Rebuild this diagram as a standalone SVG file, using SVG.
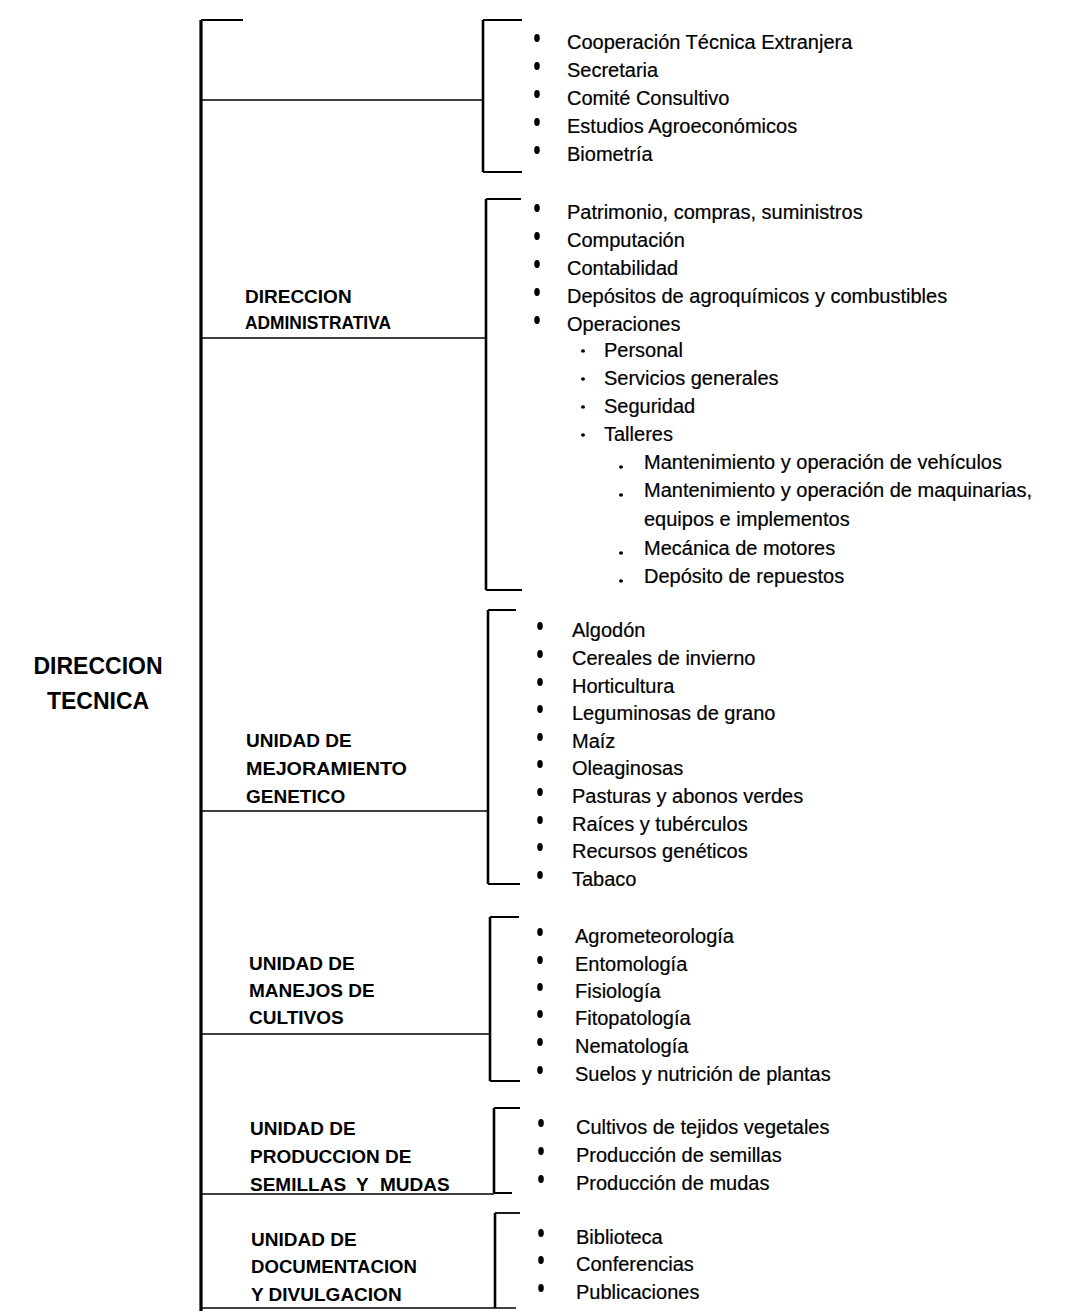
<svg xmlns="http://www.w3.org/2000/svg" width="1065" height="1314" viewBox="0 0 1065 1314">
<style>
.bg{fill:#fff}
.ln{stroke:#000;stroke-width:1.6;fill:none}
.main{stroke:#000;stroke-width:3.2;fill:none}
.br{stroke:#000;stroke-width:2.6;fill:none}
.tk{stroke:#000;stroke-width:1.8;fill:none}
.it{font-family:"Liberation Sans",Arial,sans-serif;font-size:20px;fill:#000;stroke:#000;stroke-width:0.2}
.lb{font-family:"Liberation Sans",Arial,sans-serif;font-size:19px;font-weight:bold;fill:#000}
.tt{font-family:"Liberation Sans",Arial,sans-serif;font-size:23px;font-weight:bold;fill:#000}
</style>
<defs>
<ellipse id="b" cx="0" cy="0" rx="2.8" ry="4" fill="#000"/>
<ellipse id="d" cx="0" cy="0" rx="2" ry="1.8" fill="#000"/>
</defs>
<rect class="bg" x="0" y="0" width="1065" height="1314"/>

<g id="connectors">
<path class="main" d="M201 20 V1311"/>
<path class="tk" d="M201 20 H243"/>
<path class="ln" d="M201 100 H483"/>
<path class="ln" d="M201 338 H486"/>
<path class="ln" d="M201 811 H488"/>
<path class="ln" d="M201 1034 H490"/>
<path class="ln" d="M201 1194 H494"/>
<path class="ln" d="M201 1308 H516"/>
<path class="br" d="M483 20 V172"/>
<path class="tk" d="M483 20 H522 M483 172 H522"/>
<path class="br" d="M486 199 V590"/>
<path class="tk" d="M486 199 H521 M486 590 H522"/>
<path class="br" d="M488 610 V884"/>
<path class="tk" d="M488 610 H516 M488 884 H520"/>
<path class="br" d="M490 917 V1081"/>
<path class="tk" d="M490 917 H519 M490 1081 H520"/>
<path class="br" d="M494 1108 V1193"/>
<path class="tk" d="M494 1108 H520 M494 1193 H512"/>
<path class="br" d="M495 1213 V1308"/>
<path class="tk" d="M495 1213 H520"/>
</g>

<g id="direccion-tecnica">
<text class="tt" x="98" y="674" text-anchor="middle">DIRECCION</text>
<text class="tt" x="98" y="709" text-anchor="middle">TECNICA</text>
</g>

<g id="grupo-staff">
<use href="#b" x="537" y="38"/><text class="it" x="567" y="49">Cooperación Técnica Extranjera</text>
<use href="#b" x="537" y="66"/><text class="it" x="567" y="77">Secretaria</text>
<use href="#b" x="537" y="94"/><text class="it" x="567" y="105">Comité Consultivo</text>
<use href="#b" x="537" y="122"/><text class="it" x="567" y="133">Estudios Agroeconómicos</text>
<use href="#b" x="537" y="150"/><text class="it" x="567" y="161">Biometría</text>
</g>

<g id="direccion-administrativa">
<text class="lb" x="245" y="303">DIRECCION</text>
<text class="lb" x="245" y="329" textLength="146" lengthAdjust="spacingAndGlyphs">ADMINISTRATIVA</text>
<use href="#b" x="537" y="208"/><text class="it" x="567" y="219">Patrimonio, compras, suministros</text>
<use href="#b" x="537" y="236"/><text class="it" x="567" y="247">Computación</text>
<use href="#b" x="537" y="264"/><text class="it" x="567" y="275">Contabilidad</text>
<use href="#b" x="537" y="292"/><text class="it" x="567" y="303">Depósitos de agroquímicos y combustibles</text>
<use href="#b" x="537" y="320"/><text class="it" x="567" y="331">Operaciones</text>
<use href="#d" x="583" y="351"/><text class="it" x="604" y="357">Personal</text>
<use href="#d" x="583" y="379"/><text class="it" x="604" y="385">Servicios generales</text>
<use href="#d" x="583" y="407"/><text class="it" x="604" y="413">Seguridad</text>
<use href="#d" x="583" y="435"/><text class="it" x="604" y="441">Talleres</text>
<use href="#d" x="621" y="467"/><text class="it" x="644" y="469">Mantenimiento y operación de vehículos</text>
<use href="#d" x="621" y="495"/><text class="it" x="644" y="497">Mantenimiento y operación de maquinarias,</text>
<text class="it" x="644" y="526">equipos e implementos</text>
<use href="#d" x="621" y="553"/><text class="it" x="644" y="555">Mecánica de motores</text>
<use href="#d" x="621" y="581"/><text class="it" x="644" y="583">Depósito de repuestos</text>
</g>

<g id="mejoramiento-genetico">
<text class="lb" x="246" y="747">UNIDAD DE</text>
<text class="lb" x="246" y="775" textLength="161" lengthAdjust="spacingAndGlyphs">MEJORAMIENTO</text>
<text class="lb" x="246" y="803">GENETICO</text>
<use href="#b" x="540" y="626"/><text class="it" x="572" y="637">Algodón</text>
<use href="#b" x="540" y="654"/><text class="it" x="572" y="665">Cereales de invierno</text>
<use href="#b" x="540" y="682"/><text class="it" x="572" y="693">Horticultura</text>
<use href="#b" x="540" y="709"/><text class="it" x="572" y="720">Leguminosas de grano</text>
<use href="#b" x="540" y="737"/><text class="it" x="572" y="748">Maíz</text>
<use href="#b" x="540" y="764"/><text class="it" x="572" y="775">Oleaginosas</text>
<use href="#b" x="540" y="792"/><text class="it" x="572" y="803">Pasturas y abonos verdes</text>
<use href="#b" x="540" y="820"/><text class="it" x="572" y="831">Raíces y tubérculos</text>
<use href="#b" x="540" y="847"/><text class="it" x="572" y="858">Recursos genéticos</text>
<use href="#b" x="540" y="875"/><text class="it" x="572" y="886">Tabaco</text>
</g>

<g id="manejos-cultivos">
<text class="lb" x="249" y="970">UNIDAD DE</text>
<text class="lb" x="249" y="997">MANEJOS DE</text>
<text class="lb" x="249" y="1024">CULTIVOS</text>
<use href="#b" x="540" y="932"/><text class="it" x="575" y="943">Agrometeorología</text>
<use href="#b" x="540" y="960"/><text class="it" x="575" y="971">Entomología</text>
<use href="#b" x="540" y="987"/><text class="it" x="575" y="998">Fisiología</text>
<use href="#b" x="540" y="1014"/><text class="it" x="575" y="1025">Fitopatología</text>
<use href="#b" x="540" y="1042"/><text class="it" x="575" y="1053">Nematología</text>
<use href="#b" x="540" y="1070"/><text class="it" x="575" y="1081">Suelos y nutrición de plantas</text>
</g>

<g id="produccion-semillas">
<text class="lb" x="250" y="1135">UNIDAD DE</text>
<text class="lb" x="250" y="1163">PRODUCCION DE</text>
<text class="lb" y="1191"><tspan x="250">SEMILLAS</tspan> <tspan x="356">Y</tspan> <tspan x="380">MUDAS</tspan></text>
<use href="#b" x="541" y="1123"/><text class="it" x="576" y="1134">Cultivos de tejidos vegetales</text>
<use href="#b" x="541" y="1151"/><text class="it" x="576" y="1162">Producción de semillas</text>
<use href="#b" x="541" y="1179"/><text class="it" x="576" y="1190">Producción de mudas</text>
</g>

<g id="documentacion-divulgacion">
<text class="lb" x="251" y="1246">UNIDAD DE</text>
<text class="lb" x="251" y="1273" textLength="166" lengthAdjust="spacingAndGlyphs">DOCUMENTACION</text>
<text class="lb" x="251" y="1301">Y DIVULGACION</text>
<use href="#b" x="541" y="1233"/><text class="it" x="576" y="1244">Biblioteca</text>
<use href="#b" x="541" y="1260"/><text class="it" x="576" y="1271">Conferencias</text>
<use href="#b" x="541" y="1288"/><text class="it" x="576" y="1299">Publicaciones</text>
</g>
</svg>
